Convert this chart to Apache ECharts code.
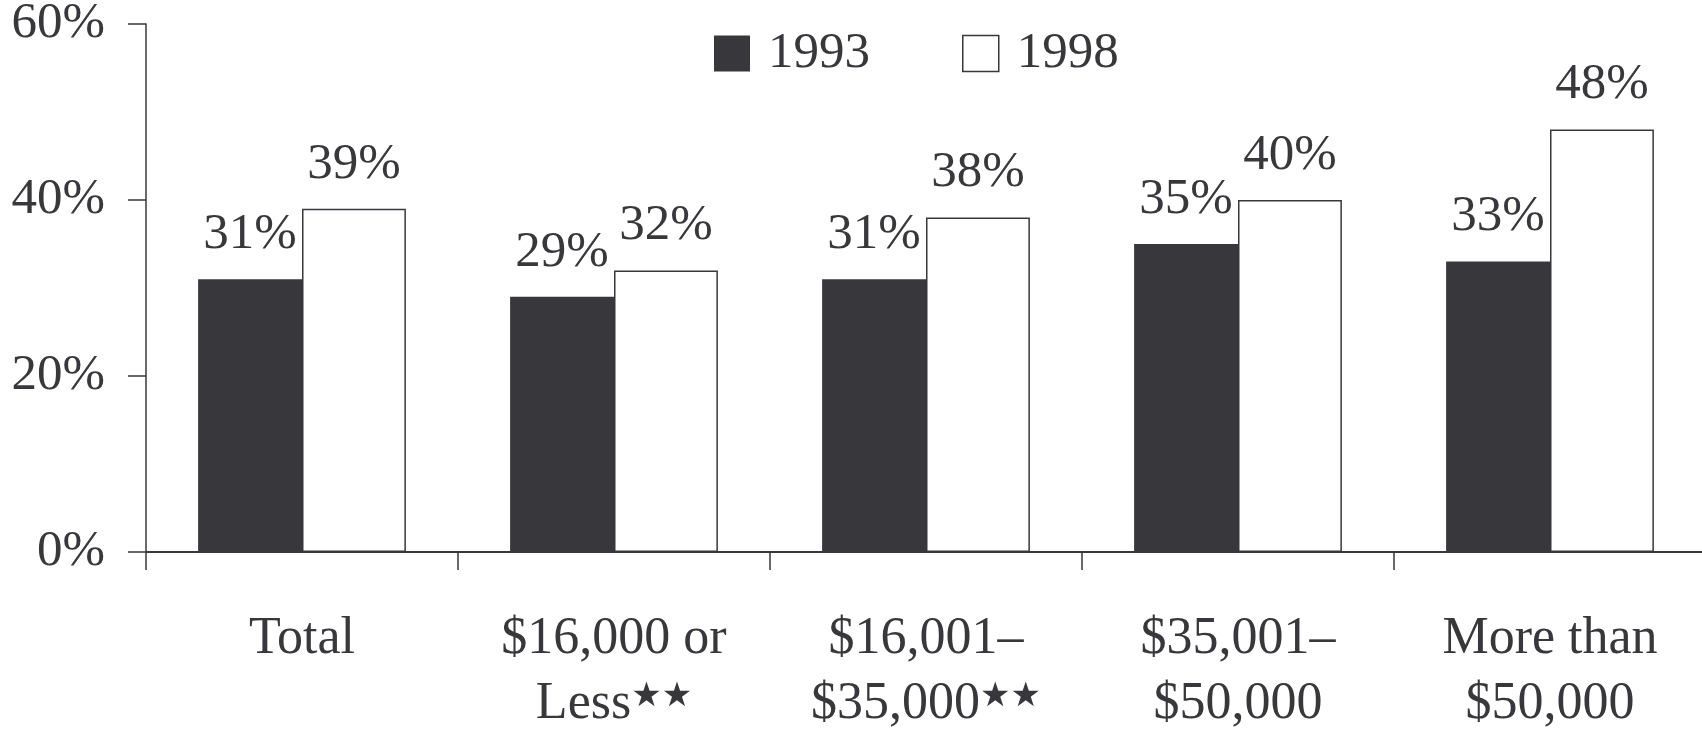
<!DOCTYPE html>
<html>
<head>
<meta charset="utf-8">
<script src="https://cdn.jsdelivr.net/npm/echarts@6/dist/echarts.min.js"></script>
<style>
  html, body { margin: 0; padding: 0; background: #fff; }
  #chart { width: 1702px; height: 730px; }
</style>
</head>
<body>
<div id="chart"></div>
<script>
const categories = ['Total', '$16,000 or\nLess★★', '$16,001–\n$35,000★★', '$35,001–\n$50,000', 'More than\n$50,000']
const values1993 = [31, 29, 31, 35, 33]
const values1998 = [39, 32, 38, 40, 48]
const yTicks = [0, 20, 40, 60]

const ink = '#38373c'
const font = '"Liberation Serif", "DejaVu Serif", serif'

const chart = echarts.init(document.getElementById('chart'), null, { renderer: 'canvas' })

const labelStyle = {
  show: true,
  position: 'top',
  distance: 19,
  formatter: '{c}%',
  color: ink,
  fontFamily: font,
  fontSize: 51,
  lineHeight: 51
}

// the stars are set smaller than the text around them
const catFormatter = (value) => value.split('\n')
  .map(line => line.replace(/(★+)/, '{star|$1}').replace(/^([^{]+)/, '{t|$1}'))
  .join('\n')

chart.setOption({
  animation: false,
  backgroundColor: '#fff',
  textStyle: { fontFamily: font, color: ink },
  grid: {
    left: 146,
    top: 24,
    width: 1560,
    height: 528,
    containLabel: false,
    outerBoundsMode: 'none'
  },
  legend: {
    left: 714,
    top: 28,
    padding: 0,
    itemWidth: 36,
    itemHeight: 36,
    itemGap: 92,
    icon: 'rect',
    textStyle: {
      color: ink,
      fontFamily: font,
      fontSize: 51,
      lineHeight: 36,
      padding: [0, 0, 0, 13]
    },
    data: [
      { name: '1993', itemStyle: { color: ink, borderWidth: 0 } },
      { name: '1998', itemStyle: { color: '#fff', borderColor: ink, borderWidth: 1.5 } }
    ]
  },
  xAxis: {
    type: 'category',
    data: categories,
    boundaryGap: true,
    axisLine: { show: true, lineStyle: { color: ink, width: 2 } },
    axisTick: { show: true, inside: false, length: 18, lineStyle: { color: ink, width: 1.5 } },
    axisLabel: {
      color: ink,
      fontFamily: font,
      fontSize: 52,
      lineHeight: 65,
      margin: 55,
      interval: 0,
      formatter: catFormatter,
      rich: {
        t: { color: ink, fontFamily: font, fontSize: 52, lineHeight: 65 },
        star: { color: ink, fontFamily: '"DejaVu Sans", sans-serif', fontSize: 34, lineHeight: 65, padding: [0, 0, 14, 0] }
      }
    },
    splitLine: { show: false }
  },
  yAxis: {
    type: 'value',
    min: yTicks[0],
    max: yTicks[yTicks.length - 1],
    interval: 20,
    axisLine: { show: true, lineStyle: { color: ink, width: 1.5 } },
    axisTick: { show: true, inside: false, length: 18, lineStyle: { color: ink, width: 1.5 } },
    axisLabel: {
      color: ink,
      fontFamily: font,
      fontSize: 51,
      margin: 41,
      formatter: '{value}%'
    },
    splitLine: { show: false }
  },
  series: [
    {
      name: '1993',
      type: 'bar',
      data: values1993,
      barWidth: '33.3%',
      barGap: '0%',
      itemStyle: { color: ink },
      label: labelStyle
    },
    {
      name: '1998',
      type: 'bar',
      data: values1998,
      barWidth: '33.3%',
      barGap: '0%',
      itemStyle: { color: '#fff', borderColor: ink, borderWidth: 1.5 },
      label: labelStyle
    }
  ]
})
</script>
</body>
</html>
